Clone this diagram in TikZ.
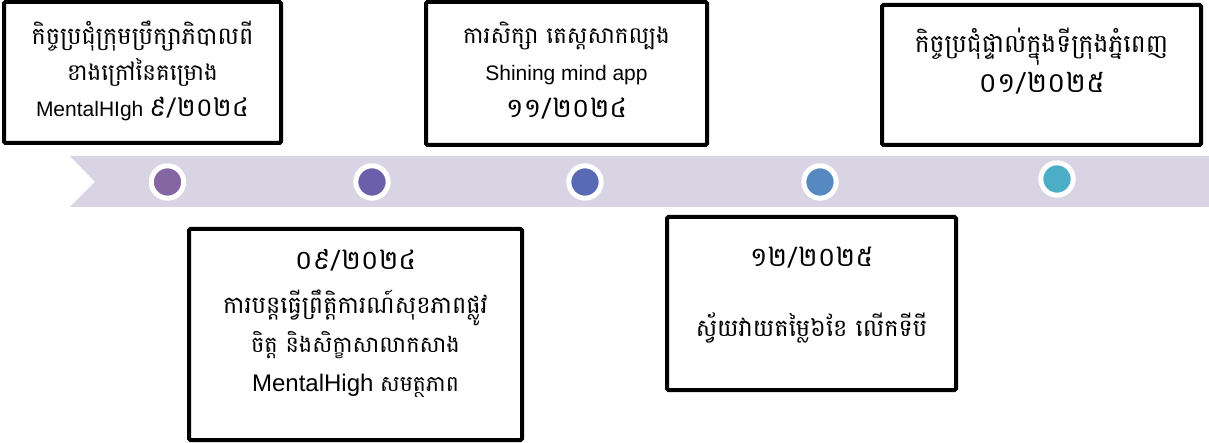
\documentclass[tikz,border=0pt]{standalone}
\usepackage{fontspec}
\setmainfont{Liberation Sans}
\newfontfamily\kh[Script=Khmer]{Battambang}
\usetikzlibrary{positioning}
\definecolor{band}{HTML}{D8D4E3}
\definecolor{dotA}{HTML}{8566A3}
\definecolor{dotB}{HTML}{6B5EAB}
\definecolor{dotC}{HTML}{5A69B3}
\definecolor{dotD}{HTML}{5689C1}
\definecolor{dotE}{HTML}{4BAEC6}
\newcommand{\ks}[2]{{\kh\fontsize{#1}{#1}\selectfont #2}}
\tikzset{tbox/.style={draw,line width=4pt,rounded corners=1.5pt,inner sep=0pt},
  dot/.style={circle,draw=white,line width=5pt,minimum size=32.4pt,inner sep=0pt},
  txt/.style={align=center,inner sep=0pt}}
\lineskiplimit=-100pt

\begin{document}
\begin{tikzpicture}[x=1pt,y=-1pt]
	\useasboundingbox (0,0) rectangle (1209,443);
	\fill[band] (70,156) -- (1209,156) -- (1209,207) -- (70,207) -- (95,182) -- cycle;

	\node[dot,fill=dotA] (d1) at (167.5,182) {};
	\node[dot,fill=dotB] (d2) at (372,182) {};
	\node[dot,fill=dotC] (d3) at (585,182) {};
	\node[dot,fill=dotD] (d4) at (820,182) {};
	\node[dot,fill=dotE] (d5) at (1057,179) {};

	\node[tbox,minimum width=277pt,minimum height=141pt] (b1) at (142.5,72.5) {};
	\node[tbox,minimum width=281pt,minimum height=143pt] (b2) at (566.5,73.5) {};
	\node[tbox,minimum width=319pt,minimum height=140pt] (b3) at (1041.5,75) {};
	\node[tbox,minimum width=333pt,minimum height=211pt] (b4) at (355.5,334.5) {};
	\node[tbox,minimum width=289pt,minimum height=173pt] (b5) at (811.5,303.5) {};

	\node[txt,font=\fontsize{21}{36}\selectfont] (t1) at (142.5,71)
		{\ks{24}{កិច្ចប្រជុំក្រុមប្រឹក្សាភិបាលពី}\\\ks{23}{ខាងក្រៅនៃគម្រោង}\\MentalHIgh \ks{26}{៩/២០២៤}};
	\node[txt,font=\fontsize{21}{37}\selectfont] (t2) at (566.5,70.5)
		{\ks{23}{ការសិក្សា តេស្តសាកល្បង}\\Shining mind app\\\ks{27}{១១/២០២៤}};
	\node[txt,font=\fontsize{24}{40}\selectfont] (t3) at (1041.5,61)
		{\ks{25}{កិច្ចប្រជុំផ្ទាល់ក្នុងទីក្រុងភ្នំពេញ}\\\ks{28}{០១/២០២៥}};
	\node[txt,font=\fontsize{24}{39}\selectfont] (t4) at (355.5,323)
		{\ks{27}{០៩/២០២៤}\\[5pt]\ks{24}{ការបន្តធ្វើព្រឹត្តិការណ៍សុខភាពផ្លូវ}\\\ks{22.5}{ចិត្ត និងសិក្ខាសាលាកសាង}\\MentalHigh \ks{22}{សមត្ថភាព}};
	\node[txt,font=\fontsize{24}{40}\selectfont] (t5) at (811.5,295)
		{\ks{27}{១២/២០២៥}\\[30pt]\ks{24}{ស្វ័យវាយតម្លៃ៦ខែ លើកទីបី}};
\end{tikzpicture}
\end{document}
